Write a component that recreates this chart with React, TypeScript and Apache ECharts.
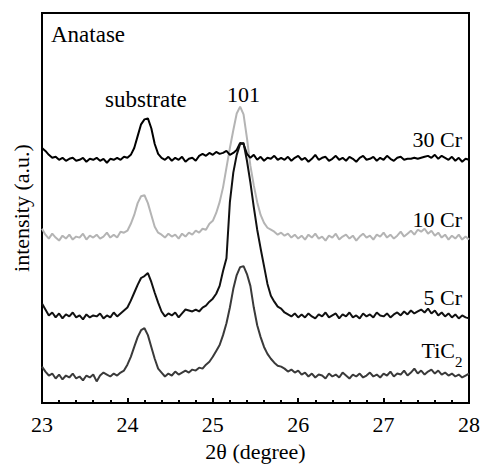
import React, { useEffect, useRef } from "react";
import * as echarts from "echarts";

// 2θ sampling grid (degrees)
const THETA_START = 23;
const THETA_STEP = 0.04;

// Intensities (arbitrary units, offset traces as plotted)
const cr30 = [
  259, 256, 252, 249, 250, 247, 249, 246, 248, 249,
  246, 247, 249, 245, 248, 247, 249, 246, 248, 244,
  248, 247, 249, 247, 250, 249, 252, 259, 271, 283,
  288, 289, 279, 263, 253, 249, 247, 250, 246, 249,
  247, 250, 245, 248, 249, 246, 251, 253, 251, 254,
  252, 255, 253, 254, 256, 252, 254, 257, 264, 263,
  253, 249, 252, 247, 250, 246, 249, 248, 251, 247,
  249, 247, 250, 246, 249, 251, 247, 249, 245, 248,
  252, 247, 249, 250, 246, 248, 251, 247, 249, 246,
  250, 248, 245, 249, 251, 247, 248, 250, 246, 249,
  247, 251, 248, 246, 249, 250, 247, 248, 248, 249,
  248, 249, 250, 251, 249, 252, 248, 251, 249, 247,
  250, 246, 249, 245, 248, 247,
];

const cr10 = [
  177, 171, 167, 172, 168, 165, 170, 167, 171, 166,
  169, 168, 172, 166, 170, 168, 171, 167, 169, 173,
  168, 171, 168, 174, 173, 175, 182, 191, 203, 210,
  211, 203, 191, 179, 173, 171, 168, 172, 169, 171,
  167, 172, 169, 173, 171, 175, 173, 177, 176, 182,
  185, 193, 204, 219, 239, 259, 277, 294, 301, 293,
  269, 241, 221, 204, 191, 183, 178, 176, 174, 171,
  173, 170, 172, 168, 171, 167, 170, 166, 171, 168,
  172, 167, 169, 165, 170, 168, 172, 166, 169, 171,
  167, 170, 165, 169, 172, 168, 170, 166, 171, 169,
  173, 168, 171, 167, 170, 174, 169, 172, 175, 171,
  176, 174, 177, 172, 175, 170, 173, 168, 171, 166,
  170, 167, 171, 166, 169, 166,
];

const cr5 = [
  101, 95, 89, 92, 87, 91, 86, 90, 88, 92,
  87, 89, 85, 90, 87, 89, 88, 91, 86, 89,
  87, 92, 88, 91, 94, 97, 104, 112, 120, 127,
  129, 132, 123, 112, 102, 93, 88, 91, 89, 92,
  87, 91, 95, 94, 93, 95, 93, 97, 99, 103,
  106, 111, 119, 134, 147, 204, 234, 252, 263, 264,
  246, 224, 199, 176, 157, 139, 121, 109, 103, 98,
  96, 92, 90, 88, 91, 87, 90, 87, 91, 88,
  86, 90, 88, 92, 87, 89, 91, 86, 90, 88,
  92, 87, 89, 86, 91, 88, 90, 87, 92, 89,
  88, 91, 87, 90, 92, 89, 93, 90, 94, 91,
  93, 95, 92, 96, 91, 94, 89, 92, 88, 91,
  87, 90, 86, 89, 87, 86,
];

const tic2 = [
  37, 32, 28, 30, 25, 29, 24, 28, 26, 30,
  25, 27, 23, 28, 26, 29, 22, 28, 31, 29,
  27, 30, 28, 31, 33, 39, 47, 57, 67, 74,
  76, 69, 57, 45, 35, 31, 27, 30, 28, 32,
  29, 31, 33, 31, 34, 33, 36, 35, 39, 42,
  47, 53, 59, 69, 81, 97, 116, 130, 138, 139,
  131, 119, 97, 79, 67, 57, 50, 45, 41, 38,
  37, 35, 32, 34, 31, 33, 29, 31, 27, 30,
  26, 29, 28, 25, 30, 27, 29, 26, 31, 28,
  25, 29, 27, 30, 26, 28, 31, 27, 29, 26,
  30, 28, 32, 27, 30, 29, 33, 28, 31, 35,
  30, 33, 29, 32, 34, 30, 33, 29, 31, 28,
  30, 27, 29, 26, 28, 30,
];

const SERIES_NAMES = ["30 Cr", "10 Cr", "5 Cr", "TiC2"];
const SERIES_VALUES = [cr30, cr10, cr5, tic2];
const SERIES_COLORS = ["#000000", "#b4b4b4", "#111111", "#3a3a3a"];

const FONT = "'Liberation Serif', 'Times New Roman', serif";

function toPairs(vals: number[]) {
  return vals.map((v, i) => [+(THETA_START + i * THETA_STEP).toFixed(2), v]);
}

export default function App() {
  const ref = useRef<HTMLDivElement>(null);
  useEffect(() => {
    if (!ref.current) return;
    const chart = echarts.init(ref.current, null, { renderer: "svg" });
    const txt = (text: string, x: number, y: number, align: string, size = 22) => ({
      type: "text",
      x,
      y,
      style: {
        text,
        fill: "#000",
        font: `${size}px ${FONT}`,
        align,
        verticalAlign: "middle",
      },
    });
    chart.setOption({
      animation: false,
      backgroundColor: "#fff",
      grid: {
        left: 42,
        right: 14,
        top: 13,
        bottom: 58,
        show: true,
        borderColor: "#000",
        borderWidth: 2,
        backgroundColor: "transparent",
      },
      xAxis: {
        type: "value",
        min: 23,
        max: 28,
        interval: 1,
        name: "2θ (degree)",
        nameLocation: "middle",
        nameGap: 34,
        nameTextStyle: { fontFamily: FONT, fontSize: 22, color: "#000" },
        axisLine: { show: true, lineStyle: { color: "#000", width: 2 } },
        axisTick: { show: true, inside: true, length: 5, lineStyle: { color: "#000", width: 2 } },
        minorTick: { show: true, splitNumber: 5, length: 3, lineStyle: { color: "#000", width: 2 } },
        axisLabel: { fontFamily: FONT, fontSize: 22, color: "#000", margin: 10 },
        splitLine: { show: false },
      },
      yAxis: {
        type: "value",
        min: 0,
        max: 396,
        name: "intensity (a.u.)",
        nameLocation: "middle",
        nameGap: 10,
        nameTextStyle: { fontFamily: FONT, fontSize: 22, color: "#000" },
        axisLine: { show: true, lineStyle: { color: "#000", width: 2 } },
        axisTick: { show: false },
        axisLabel: { show: false },
        splitLine: { show: false },
      },
      series: SERIES_VALUES.map((vals, k) => ({
        name: SERIES_NAMES[k],
        type: "line",
        data: toPairs(vals),
        showSymbol: false,
        symbol: "none",
        lineStyle: { color: SERIES_COLORS[k], width: 2 },
        z: k === 1 ? 1 : 2,
      })),
      graphic: [
        txt("Anatase", 51, 34, "left", 23),
        txt("substrate", 105, 99, "left", 23),
        txt("101", 227, 94, "left", 22),
        txt("30 Cr", 462, 139, "right"),
        txt("10 Cr", 462, 219, "right"),
        txt("5 Cr", 462, 297, "right"),
        txt("TiC", 455, 350, "right"),
        txt("2", 455, 362, "left", 15),
      ],
    });
    return () => chart.dispose();
  }, []);
  return (
    <div
      ref={ref}
      style={{ position: "fixed", left: 0, top: 0, width: 483, height: 467 }}
    />
  );
}
